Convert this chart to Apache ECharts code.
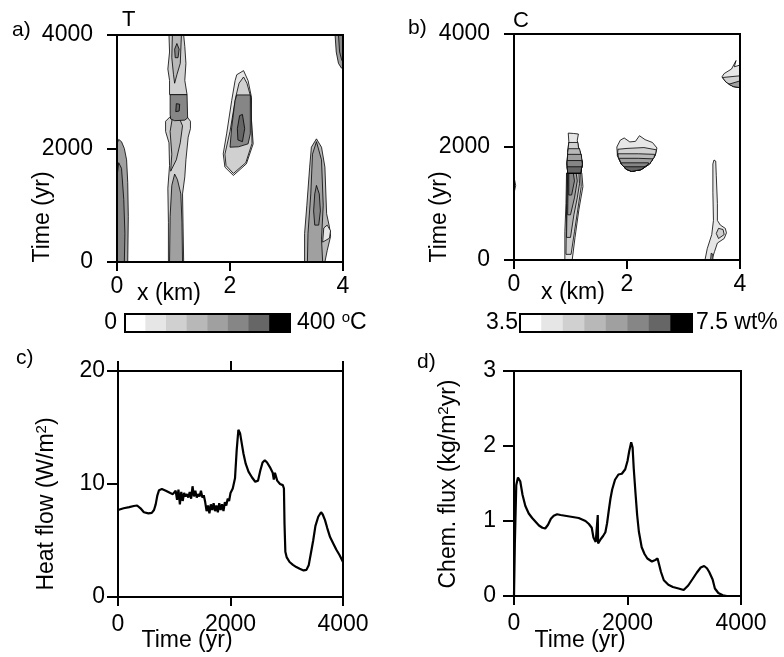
<!DOCTYPE html>
<html>
<head>
<meta charset="utf-8">
<script src="https://cdn.jsdelivr.net/npm/echarts@6/dist/echarts.min.js"></script>
<style>
  html, body { margin: 0; padding: 0; background: #fff; }
  #chart { width: 784px; height: 657px; }
</style>
</head>
<body>
<div id="chart"></div>
<script>
// grey levels of the two colour bars (8 bins each)
const grays = ['#ffffff', '#e6e6e6', '#d0d0d0', '#b8b8b8', '#a0a0a0', '#868686', '#666666', '#000000']
const binLevels = [0, 1, 2, 3, 4, 5, 6, 7]

// ---- panel a: temperature contours, [x (km), time (yr)] ----
const tLeftOuter = [[0, 0], [0, 2080], [0.03, 2160], [0.08, 2120], [0.13, 2000], [0.17, 1800], [0.19, 1400], [0.2, 800], [0.19, 0]]
const tLeftInner = [[0, 0], [0, 1500], [0.03, 1750], [0.08, 1650], [0.12, 1100], [0.14, 500], [0.13, 0]]
const tColLight = [[0.91, 0], [1.18, 0], [1.17, 600], [1.16, 1200], [1.2, 1500], [1.22, 1800], [1.26, 2200], [1.3, 2350], [1.3, 2480], [1.24, 2560], [0.94, 2560], [0.86, 2480], [0.86, 2300], [0.92, 2100], [0.93, 1700], [0.9, 1300], [0.91, 700]]
const tColMid = [[0.95, 1600], [1.05, 1800], [1.12, 2100], [1.16, 2400], [1.1, 2540], [0.98, 2540], [0.94, 2300], [0.97, 1900]]
const tColLow = [[0.93, 0], [1.16, 0], [1.15, 700], [1.13, 1200], [1.07, 1450], [1.02, 1550], [0.97, 1350], [0.94, 800]]
const tColRect = [[0.95, 2520], [1.02, 2490], [1.2, 2500], [1.25, 2540], [1.24, 2950], [0.94, 2950], [0.94, 2600]]
const tColSpot = [[1.04, 2650], [1.1, 2660], [1.11, 2780], [1.05, 2790]]
const tColUpper = [[0.93, 2950], [1.24, 2950], [1.2, 3200], [1.22, 3500], [1.2, 3800], [1.18, 4000], [0.92, 4000], [0.93, 3700], [0.9, 3400], [0.93, 3200]]
const tColUpperMid = [[1.02, 3150], [1.06, 3300], [1.12, 3500], [1.14, 4000], [0.98, 4000], [0.97, 3600], [1.0, 3300]]
const tColUpperSpot = [[1.03, 3600], [1.08, 3600], [1.1, 3750], [1.06, 3850], [1.02, 3750]]
const tBlobOuter = [[2.06, 1525], [2.29, 1730], [2.41, 2082], [2.38, 2500], [2.38, 2903], [2.32, 3196], [2.24, 3372], [2.12, 3300], [2.09, 3196], [2.03, 2845], [1.94, 2258], [1.88, 1906], [1.91, 1671]]
const tBlobLight = [[2.06, 1560], [2.28, 1750], [2.39, 2090], [2.37, 2900], [2.3, 3150], [2.24, 3260], [2.16, 3150], [2.1, 2900], [2.0, 2300], [1.91, 1900], [1.93, 1700]]
const tBlobDark = [[2.12, 2944], [2.36, 2944], [2.36, 2258], [2.32, 2082], [2.15, 2030], [2.0, 2023], [2.03, 2375], [2.09, 2845]]
const tBlobCore = [[2.14, 2150], [2.22, 2120], [2.26, 2350], [2.22, 2600], [2.17, 2580], [2.13, 2350]]
const tRightOuter = [[3.32, 0], [3.68, 0], [3.72, 200], [3.78, 450], [3.76, 620], [3.71, 850], [3.68, 1671], [3.62, 2023], [3.53, 2170], [3.44, 2023], [3.41, 1671], [3.36, 1000], [3.32, 500]]
const tRightBump = [[3.64, 350], [3.76, 420], [3.78, 550], [3.72, 650], [3.66, 600]]
const tRightMid = [[3.37, 0], [3.64, 0], [3.62, 400], [3.65, 1000], [3.62, 1800], [3.53, 2120], [3.46, 1900], [3.43, 1200], [3.38, 500]]
const tRightCore = [[3.53, 1350], [3.58, 1200], [3.6, 900], [3.57, 650], [3.5, 650], [3.48, 900], [3.5, 1200]]
const tCornerOuter = [[3.86, 4000], [3.88, 3700], [3.92, 3500], [3.97, 3420], [4, 3400], [4, 4000]]
const tCornerInner = [[3.92, 4000], [3.94, 3700], [3.98, 3550], [4, 3550], [4, 4000]]

const tShapes = [
  { level: 4, pts: tLeftOuter }, { level: 5, pts: tLeftInner },
  { level: 2, pts: tColLight }, { level: 3, pts: tColMid }, { level: 4, pts: tColLow },
  { level: 5, pts: tColRect }, { level: 6, pts: tColSpot },
  { level: 2, pts: tColUpper }, { level: 3, pts: tColUpperMid }, { level: 5, pts: tColUpperSpot },
  { level: 1, pts: tBlobOuter }, { level: 2, pts: tBlobLight }, { level: 5, pts: tBlobDark }, { level: 6, pts: tBlobCore },
  { level: 3, pts: tRightOuter }, { level: 1, pts: tRightBump }, { level: 4, pts: tRightMid }, { level: 5, pts: tRightCore },
  { level: 4, pts: tCornerOuter }, { level: 5, pts: tCornerInner }
]

// ---- panel b: concentration contours ----
const cColLow1 = [[0.9, 0], [1.03, 0], [1.08, 400], [1.15, 900], [1.22, 1300], [1.2, 1540], [0.93, 1540], [0.92, 1000], [0.9, 500]]
const cColLow2 = [[0.92, 100], [1.01, 100], [1.07, 500], [1.13, 900], [1.19, 1300], [1.18, 1540], [0.94, 1540], [0.93, 900]]
const cColLow3 = [[0.93, 400], [1.0, 400], [1.06, 800], [1.12, 1100], [1.16, 1350], [1.15, 1540], [0.95, 1540], [0.94, 1000]]
const cColLow4 = [[0.95, 800], [1.0, 800], [1.07, 1100], [1.12, 1400], [1.1, 1540], [0.96, 1540]]
const cColLow5 = [[0.97, 1150], [1.02, 1150], [1.07, 1400], [1.05, 1540], [0.97, 1540]]
const cColUp1 = [[0.95, 1540], [1.18, 1540], [1.21, 1700], [1.18, 1880], [1.14, 2000], [1.12, 2120], [1.14, 2230], [1.05, 2240], [0.96, 2246], [0.97, 2100], [0.95, 1900], [0.94, 1700]]
const cColUp2 = [[0.95, 1540], [1.18, 1540], [1.21, 1700], [1.18, 1880], [1.14, 2000], [1.13, 2080], [0.97, 2080], [0.95, 1900], [0.94, 1700]]
const cColUp3 = [[0.95, 1540], [1.18, 1540], [1.21, 1700], [1.18, 1880], [1.16, 1970], [0.96, 1970], [0.95, 1900], [0.94, 1700]]
const cColUp4 = [[0.95, 1540], [1.18, 1540], [1.21, 1700], [1.19, 1870], [0.95, 1870], [0.94, 1700]]
const cColUp5 = [[0.95, 1540], [1.18, 1540], [1.21, 1700], [1.2, 1760], [0.94, 1760], [0.94, 1700]]
const cColUp6 = [[0.95, 1540], [1.18, 1540], [1.2, 1650], [0.94, 1650]]
const cHeart1 = [[2.08, 1568], [2.25, 1600], [2.4, 1700], [2.5, 1850], [2.53, 1983], [2.45, 2080], [2.32, 2130], [2.22, 2200], [2.15, 2100], [2.05, 2090], [1.95, 2160], [1.88, 2120], [1.82, 2000], [1.83, 1850], [1.9, 1700], [1.98, 1610]]
const cHeart2 = [[2.08, 1568], [2.25, 1600], [2.4, 1700], [2.5, 1850], [2.52, 1950], [2.3, 1990], [2.0, 1975], [1.84, 1960], [1.83, 1850], [1.9, 1700], [1.98, 1610]]
const cHeart3 = [[2.08, 1568], [2.25, 1600], [2.4, 1700], [2.48, 1820], [2.49, 1870], [2.2, 1880], [1.84, 1880], [1.85, 1800], [1.9, 1700], [1.98, 1610]]
const cHeart4 = [[2.08, 1568], [2.25, 1600], [2.4, 1700], [2.46, 1790], [2.2, 1800], [1.86, 1800], [1.9, 1700], [1.98, 1610]]
const cHeart5 = [[2.08, 1568], [2.25, 1600], [2.38, 1700], [2.38, 1720], [1.9, 1720], [1.9, 1700], [1.98, 1610]]
const cHeart6 = [[2.08, 1568], [2.25, 1600], [2.32, 1650], [1.95, 1650], [1.98, 1610]]
const cStem = [[3.38, 0], [3.5, 0], [3.55, 150], [3.6, 300], [3.72, 380], [3.76, 480], [3.74, 560], [3.65, 620], [3.6, 700], [3.6, 1000], [3.58, 1500], [3.57, 1750], [3.54, 1770], [3.52, 1700], [3.52, 1200], [3.53, 700], [3.5, 450], [3.42, 200]]
const cStemPatch = [[3.62, 380], [3.72, 450], [3.7, 540], [3.62, 560], [3.58, 470]]
const cStemFoot = [[3.48, 0], [3.52, 0], [3.52, 100], [3.49, 120]]
const cCorner1 = [[4, 3450], [3.9, 3420], [3.93, 3530], [3.85, 3380], [3.72, 3300], [3.68, 3240], [3.75, 3150], [3.88, 3070], [4, 3050]]
const cCorner2 = [[3.69, 3230], [3.75, 3150], [3.88, 3070], [4, 3050], [4, 3260]]
const cCorner3 = [[3.8, 3110], [3.88, 3070], [4, 3050], [4, 3170]]
const cEdge = [[0, 1180], [0.03, 1320], [0, 1470]]

const cShapes = [
  { level: 1, pts: cColLow1 }, { level: 2, pts: cColLow2 }, { level: 3, pts: cColLow3 }, { level: 4, pts: cColLow4 }, { level: 5, pts: cColLow5 },
  { level: 1, pts: cColUp1 }, { level: 2, pts: cColUp2 }, { level: 3, pts: cColUp3 }, { level: 4, pts: cColUp4 }, { level: 5, pts: cColUp5 }, { level: 6, pts: cColUp6 },
  { level: 1, pts: cHeart1 }, { level: 2, pts: cHeart2 }, { level: 3, pts: cHeart3 }, { level: 4, pts: cHeart4 }, { level: 5, pts: cHeart5 }, { level: 6, pts: cHeart6 },
  { level: 1, pts: cStem }, { level: 2, pts: cStemPatch }, { level: 4, pts: cStemFoot },
  { level: 1, pts: cCorner1 }, { level: 2, pts: cCorner2 }, { level: 4, pts: cCorner3 },
  { level: 1, pts: cEdge }
]

// ---- panel c: heat flow (W/m2) vs time ----
const heatFlow = [
  [0, 7.7], [100, 7.85], [200, 7.95], [280, 8.05], [340, 8.1], [400, 7.85], [460, 7.5], [540, 7.4], [600, 7.45],
  [640, 7.7], [670, 8.2], [700, 9.0], [730, 9.45], [780, 9.55], [850, 9.4], [930, 9.2], [975, 9.1],
  [1000, 9.1], [1025, 9.4], [1050, 8.6], [1075, 9.5], [1100, 8.2], [1125, 9.3], [1150, 8.5], [1175, 9.2],
  [1200, 8.9], [1225, 9.1], [1250, 8.8], [1275, 9.3], [1300, 8.7], [1325, 9.8], [1350, 8.9], [1375, 9.4],
  [1400, 8.8], [1425, 9.1], [1450, 8.9], [1475, 9.4], [1500, 8.8], [1525, 9.0], [1550, 8.4], [1575, 7.6],
  [1600, 8.1], [1625, 7.4], [1650, 8.2], [1675, 7.7], [1700, 8.3], [1725, 7.6], [1750, 8.1], [1775, 7.5],
  [1800, 8.3], [1825, 7.7], [1850, 8.2], [1875, 7.6], [1900, 8.4], [1925, 8.1], [1950, 8.7], [1975, 8.5],
  [2000, 9.2], [2040, 9.6], [2080, 10.5], [2110, 13.0], [2140, 14.8], [2170, 14.5], [2200, 13.6], [2230, 12.7],
  [2270, 11.8], [2320, 11.1], [2380, 10.6], [2440, 10.2], [2490, 10.3], [2530, 11.2], [2570, 11.9], [2610, 12.1],
  [2650, 11.9], [2700, 11.5], [2750, 11.0], [2770, 10.4], [2790, 11.0], [2830, 10.3], [2880, 10.0], [2930, 9.9],
  [2950, 9.6], [2960, 6.5], [2975, 4.0], [3000, 3.5], [3050, 3.1], [3110, 2.85], [3170, 2.65], [3230, 2.5],
  [3300, 2.35], [3350, 2.4], [3390, 2.8], [3430, 3.9], [3470, 5.0], [3510, 6.3], [3560, 7.1], [3610, 7.5],
  [3640, 7.3], [3680, 6.8], [3720, 6.1], [3770, 5.3], [3820, 4.8], [3880, 4.2], [3940, 3.7], [4000, 3.1]
]

// ---- panel d: chemical flux (kg/m2yr) vs time ----
const chemFlux = [
  [0, 0], [15, 0.7], [40, 1.48], [70, 1.58], [110, 1.53], [150, 1.35], [200, 1.2], [260, 1.1], [320, 1.04],
  [380, 0.99], [440, 0.94], [500, 0.91], [550, 0.9], [600, 0.95], [650, 1.03], [700, 1.07], [760, 1.09],
  [820, 1.08], [900, 1.07], [980, 1.06], [1060, 1.05], [1140, 1.04], [1200, 1.02], [1260, 1.0], [1320, 0.96],
  [1370, 0.91], [1400, 0.78], [1440, 0.72], [1470, 0.73], [1476, 1.08], [1482, 0.7], [1500, 0.68], [1530, 0.76],
  [1570, 0.8], [1610, 0.85], [1640, 0.97], [1670, 1.14], [1700, 1.3], [1730, 1.42], [1780, 1.55], [1840, 1.62],
  [1900, 1.63], [1960, 1.69], [2000, 1.8], [2030, 1.93], [2065, 2.05], [2090, 1.98], [2110, 1.7], [2140, 1.38],
  [2170, 1.08], [2200, 0.86], [2250, 0.65], [2300, 0.56], [2350, 0.5], [2430, 0.46], [2490, 0.48], [2530, 0.5],
  [2550, 0.44], [2590, 0.32], [2640, 0.21], [2720, 0.15], [2800, 0.12], [2900, 0.1], [2990, 0.08], [3070, 0.14],
  [3150, 0.23], [3220, 0.31], [3290, 0.38], [3350, 0.4], [3400, 0.37], [3440, 0.32], [3470, 0.31], [3500, 0.22],
  [3540, 0.1], [3600, 0.04], [3680, 0.01], [3750, 0], [4000, 0]
]

const font = 'Liberation Sans'
const fs = 23
const labelStyle = { color: '#000', fontFamily: font, fontSize: fs, formatter: v => String(v) }
const axisLine = { show: true, lineStyle: { color: '#000', width: 2 } }
const tick = len => ({ show: true, inside: false, length: len, lineStyle: { color: '#000', width: 2 } })

function plotGrid(left, top, width, height) {
  return { left, top, width, height, show: true, borderColor: '#000', borderWidth: 2, backgroundColor: 'transparent', z: 3 }
}

function valAxis(gridIndex, max, interval, margin, tickLen, extra) {
  return Object.assign({
    type: 'value', gridIndex, min: 0, max, interval, z: 4,
    axisLine, axisTick: tick(tickLen), splitLine: { show: false },
    axisLabel: Object.assign({ margin }, labelStyle)
  }, extra || {})
}

function contourSeries(shapes, idx) {
  return {
    type: 'custom', xAxisIndex: idx, yAxisIndex: idx, clip: true, silent: true, z: 1,
    data: shapes.map(s => s.pts[0]),
    renderItem(params, api) {
      const s = shapes[params.dataIndex]
      return {
        type: 'polygon',
        shape: { points: s.pts.map(p => api.coord(p)) },
        style: { fill: grays[s.level], stroke: '#000', lineWidth: 0.8 }
      }
    }
  }
}

function colorBar(idx) {
  return {
    type: 'heatmap', xAxisIndex: idx, yAxisIndex: idx, silent: true, z: 1,
    data: binLevels.map(i => ({ value: [i, 0, i], itemStyle: { color: grays[i] } }))
  }
}

function txt(text, x, y, opt) {
  return Object.assign({
    type: 'text', x, y, silent: true,
    style: Object.assign({
      text, fill: '#000', fontFamily: font, fontSize: fs, align: 'left', verticalAlign: 'middle',
      rich: {
        n: { fontFamily: font, fontSize: fs },
        sup: { fontFamily: font, fontSize: 15, verticalAlign: 'top', padding: [0, 0, 10, 0] }
      }
    }, opt && opt.style)
  }, opt && opt.el)
}

const chart = echarts.init(document.getElementById('chart'), null, { renderer: 'canvas' })

chart.setOption({
  animation: false,
  backgroundColor: '#fff',
  grid: [
    plotGrid(117, 35, 226, 227),
    plotGrid(514, 34, 226, 226),
    plotGrid(118, 371, 225, 226),
    plotGrid(514, 371, 227, 225),
    plotGrid(125, 314, 165, 18),
    plotGrid(520, 314, 172, 18)
  ],
  xAxis: [
    valAxis(0, 4, 2, 13, 9),
    valAxis(1, 4, 2, 13, 9),
    valAxis(2, 4000, 2000, 16, 9),
    valAxis(3, 4000, 2000, 16, 9),
    { type: 'category', gridIndex: 4, data: binLevels, show: false },
    { type: 'category', gridIndex: 5, data: binLevels, show: false },
    valAxis(2, 4000, 2000, 16, 10, { position: 'top', axisLabel: { show: false } })
  ],
  yAxis: [
    valAxis(0, 4000, 2000, 24, 10),
    valAxis(1, 4000, 2000, 24, 10),
    valAxis(2, 20, 10, 13, 11),
    valAxis(3, 3, 1, 18, 11),
    { type: 'category', gridIndex: 4, data: ['bar'], show: false },
    { type: 'category', gridIndex: 5, data: ['bar'], show: false }
  ],
  series: [
    contourSeries(tShapes, 0),
    contourSeries(cShapes, 1),
    {
      type: 'line', xAxisIndex: 2, yAxisIndex: 2, data: heatFlow, showSymbol: false,
      lineStyle: { color: '#000', width: 2.2 }, clip: true
    },
    {
      type: 'line', xAxisIndex: 3, yAxisIndex: 3, data: chemFlux, showSymbol: false,
      lineStyle: { color: '#000', width: 2.2 }, clip: true
    },
    colorBar(4),
    colorBar(5)
  ],
  graphic: [
    txt('a)', 12, 30, { style: { fontSize: 21 } }),
    txt('T', 122, 20, { style: { fontSize: 22 } }),
    txt('b)', 408, 28, { style: { fontSize: 21 } }),
    txt('C', 513, 21, { style: { fontSize: 22 } }),
    txt('c)', 16, 358, { style: { fontSize: 21 } }),
    txt('d)', 417, 362, { style: { fontSize: 21 } }),
    txt('x (km)', 137, 294),
    txt('x (km)', 541, 293),
    txt('0', 117, 323, { style: { align: 'right' } }),
    txt('{n|400 }{sup|o}{n|C}', 297, 323),
    txt('3.5', 518, 323, { style: { align: 'right' } }),
    txt('7.5 wt%', 696, 323),
    txt('Time (yr)', 43, 217, { style: { align: 'center' }, el: { rotation: Math.PI / 2 } }),
    txt('Time (yr)', 440, 217, { style: { align: 'center' }, el: { rotation: Math.PI / 2 } }),
    txt('{n|Heat flow (W/m}{sup|2}{n|)}', 47, 504, { style: { align: 'center' }, el: { rotation: Math.PI / 2 } }),
    txt('{n|Chem. flux (kg/m}{sup|2}{n|yr)}', 449, 484, { style: { align: 'center' }, el: { rotation: Math.PI / 2 } }),
    txt('Time (yr)', 187, 641, { style: { align: 'center' } }),
    txt('Time (yr)', 580, 641, { style: { align: 'center' } })
  ]
})
</script>
</body>
</html>
